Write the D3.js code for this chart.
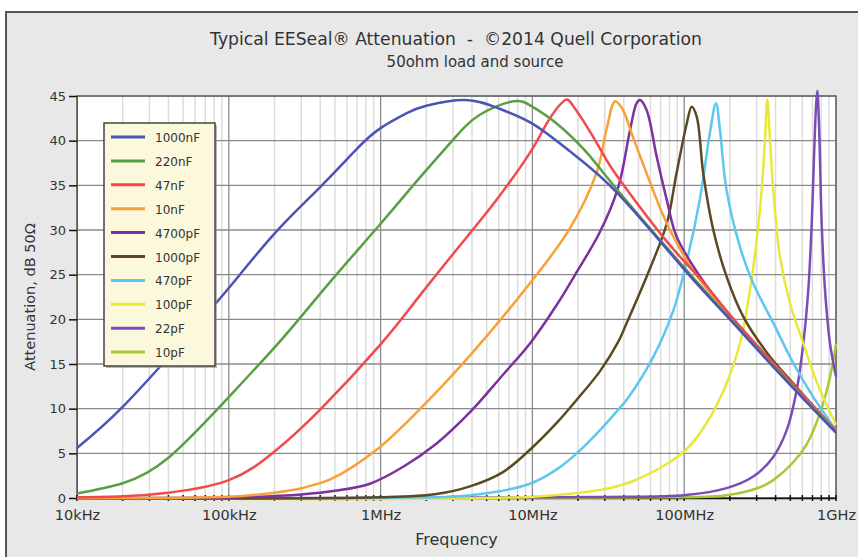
<!DOCTYPE html>
<html lang="en">
<head>
<meta charset="utf-8">
<title>EESeal attenuation</title>
<script src="https://cdnjs.cloudflare.com/ajax/libs/d3/7.8.5/d3.min.js"></script>
<style>
  body {margin: 0; background: white;}
  svg {display: block;}
  text {font-family: "DejaVu Sans", Verdana, sans-serif; fill: #333;}
</style>
</head>
<body>
<svg width="858" height="557"></svg>
<script>
// chart values
var titleText = "Typical EESeal\u00AE Attenuation  -  \u00A92014 Quell Corporation";
var subtitleText = "50ohm load and source";
var yTicks = [0, 5, 10, 15, 20, 25, 30, 35, 40, 45];
var xTicks = [1e4, 1e5, 1e6, 1e7, 1e8, 1e9];
var xTickLabels = ["10kHz", "100kHz", "1MHz", "10MHz", "100MHz", "1GHz"];
var labels = ["1000nF", "220nF", "47nF", "10nF", "4700pF", "1000pF", "470pF", "100pF", "22pF", "10pF"];
var colors = ["#4a55b6", "#5a9f44", "#f24a4c", "#f7a136", "#7d319e", "#5c4923", "#5ec7ef", "#e8e83a", "#7a4db6", "#a7c934"];

// frequency in Hz, attenuation in dB
var f1000nF = [1e4, 2e4, 5e4, 1e5, 2e5, 4e5, 7e5, 1e6, 1.5e6, 2e6, 3.6e6, 6e6, 1e7, 1.8e7, 3.7e7, 1e8, 2e8, 4e8, 1e9];
var db1000nF = [5.6, 10.2, 17.6, 23.5, 29.6, 34.8, 39.1, 41.4, 43.1, 43.9, 44.55, 43.6, 41.9, 38.7, 34.0, 25.6, 20.0, 14.4, 7.3];

var f220nF = [1e4, 2e4, 4e4, 1e5, 2.27e5, 4.55e5, 1e6, 1.8e6, 3e6, 4.5e6, 7.5e6, 1e7, 1.45e7, 2.3e7, 3.7e7, 1e8, 2e8, 4e8, 1e9];
var db220nF = [0.5, 1.65, 4.5, 11.3, 17.9, 24.0, 30.7, 35.8, 40.1, 42.9, 44.4, 43.8, 41.9, 38.6, 34.3, 25.8, 20.1, 14.5, 7.35];

var f47nF = [1e4, 2e4, 4e4, 1e5, 2e5, 4e5, 1e6, 1.8e6, 3.9e6, 6e6, 9.6e6, 1.25e7, 1.6e7, 1.8e7, 2.15e7, 2.9e7, 3.7e7, 7.7e7, 1.27e8, 2e8, 4e8, 1e9];
var db47nF = [0.08, 0.2, 0.6, 2.0, 5.2, 9.9, 17.2, 22.6, 29.7, 33.7, 38.6, 42.0, 44.4, 44.2, 42.3, 38.6, 35.8, 28.7, 24.6, 20.5, 14.8, 7.5];

var f10nF = [1e4, 1e5, 2e5, 3e5, 4.7e5, 9.4e5, 1.8e6, 3.9e6, 9.6e6, 1.77e7, 2.66e7, 3.1e7, 3.5e7, 3.9e7, 4.6e7, 6e7, 7.7e7, 1.14e8, 2e8, 4e8, 1e9];
var db10nF = [0.0, 0.15, 0.6, 1.1, 2.1, 5.4, 9.9, 16.0, 24.0, 30.2, 36.5, 41.5, 44.4, 43.6, 40.4, 35.2, 30.7, 25.5, 20.4, 14.8, 7.5];

var f4700pF = [1e4, 1e5, 3e5, 5e5, 8.5e5, 1.41e6, 2.34e6, 3.88e6, 6.4e6, 9.64e6, 1.445e7, 1.96e7, 2.79e7, 3.68e7, 4.4e7, 4.86e7, 5.12e7, 5.66e7, 6.59e7, 7.67e7, 8.89e7, 1.27e8, 1.9e8, 4e8, 1e9];
var db4700pF = [0, 0.05, 0.4, 0.8, 1.6, 3.5, 6.1, 9.6, 13.8, 17.3, 21.6, 25.3, 29.8, 34.8, 41.2, 44.2, 44.55, 43.4, 38.2, 33.4, 29.3, 24.8, 20.9, 14.8, 7.5];

var f1000pF = [1e4, 1e6, 2.34e6, 3.88e6, 6.4e6, 9.64e6, 1.445e7, 1.96e7, 2.79e7, 3.68e7, 4.18e7, 5.66e7, 7.67e7, 8.89e7, 1.039e8, 1.12e8, 1.209e8, 1.336e8, 1.555e8, 1.9e8, 2.449e8, 3.496e8, 5.236e8, 1e9];
var db1000pF = [0, 0.08, 0.45, 1.3, 2.9, 5.4, 8.4, 11.0, 14.2, 17.5, 19.6, 24.8, 30.7, 36.3, 41.9, 43.8, 42.7, 36.3, 30.0, 24.8, 20.3, 16.3, 12.8, 7.5];

var f470pF = [1e4, 1e6, 3.88e6, 9.64e6, 1.445e7, 1.96e7, 2.79e7, 3.68e7, 4.18e7, 6.26e7, 8.48e7, 1.039e8, 1.27e8, 1.48e8, 1.62e8, 1.72e8, 1.9e8, 2.33e8, 2.85e8, 3.86e8, 5.23e8, 7.09e8, 1e9];
var db470pF = [0, 0.02, 0.3, 1.6, 3.2, 5.0, 7.6, 9.9, 11.0, 15.8, 21.0, 26.5, 33.5, 41.0, 44.2, 41.2, 34.5, 28.1, 24.0, 19.6, 15.1, 11.3, 7.6];

var f100pF = [1e4, 1e7, 2.79e7, 3.68e7, 4.62e7, 7.67e7, 1.028e8, 1.407e8, 1.9e8, 2.33e8, 2.714e8, 3.004e8, 3.239e8, 3.406e8, 3.527e8, 3.674e8, 3.86e8, 4.277e8, 4.977e8, 6.09e8, 7.46e8, 1e9];
var db100pF = [0, 0.15, 0.9, 1.35, 1.9, 3.8, 5.4, 8.4, 12.8, 17.3, 23.3, 28.9, 34.5, 40.1, 44.6, 40.1, 34.5, 27.0, 21.8, 17.3, 13.0, 8.2];

var f22pF = [1e4, 2.79e7, 1.028e8, 1.9e8, 2.85e8, 3.86e8, 4.734e8, 5.51e8, 6.09e8, 6.569e8, 6.917e8, 7.163e8, 7.383e8, 7.529e8, 7.727e8, 8.05e8, 8.464e8, 9.13e8, 1e9];
var db22pF = [0, 0.1, 0.33, 1.1, 2.4, 4.6, 7.6, 12.1, 17.3, 23.3, 30.7, 38.2, 43.8, 45.6, 41.9, 30.7, 23.3, 17.3, 13.6];

var f10pF = [1e4, 1e8, 1.9e8, 3.157e8, 3.86e8, 5.23e8, 6.41e8, 7.846e8, 9.13e8, 1e9];
var db10pF = [0, 0.08, 0.3, 1.2, 2.0, 4.0, 6.0, 9.5, 13.5, 17.3];

var freqs = [f1000nF, f220nF, f47nF, f10nF, f4700pF, f1000pF, f470pF, f100pF, f22pF, f10pF];
var dbs = [db1000nF, db220nF, db47nF, db10nF, db4700pF, db1000pF, db470pF, db100pF, db22pF, db10pF];

var series = labels.map(function(name, i) {
  return {
    name: name,
    color: colors[i],
    broad: i < 3,
    points: freqs[i].map(function(f, j) { return {f: f, db: dbs[i][j]}; })
  };
});

var svg = d3.select("svg");
var pLeft = 77, pRight = 836, pTop = 96, pBottom = 498;

var x = d3.scaleLog().domain([1e4, 1e9]).range([pLeft, pRight]);
var y = d3.scaleLinear().domain([0, 45]).range([pBottom, pTop]);

// grey panel with dark border
svg.append("rect")
  .attr("x", 6).attr("y", 12)
  .attr("width", 900).attr("height", 600)
  .attr("fill", "#e8e8e8")
  .attr("stroke", "#555").attr("stroke-width", 2);

svg.append("text")
  .attr("x", 456).attr("y", 45)
  .attr("text-anchor", "middle")
  .style("font-size", "17.2px")
  .style("white-space", "pre")
  .text(titleText);

svg.append("text")
  .attr("x", 475).attr("y", 67)
  .attr("text-anchor", "middle")
  .style("font-size", "15px")
  .text(subtitleText);

// plot area
svg.append("rect")
  .attr("x", pLeft).attr("y", pTop)
  .attr("width", pRight - pLeft).attr("height", pBottom - pTop)
  .attr("fill", "white");

// minor vertical grid
var minor = [];
for (var dec = 1e4; dec < 1e9; dec *= 10) {
  for (var m = 2; m <= 9; m++) minor.push(dec * m);
}
svg.append("g").selectAll("line")
  .data(minor)
  .enter().append("line")
  .attr("x1", function(d) { return x(d); })
  .attr("x2", function(d) { return x(d); })
  .attr("y1", pTop).attr("y2", pBottom)
  .attr("stroke", "#dcdcdc").attr("stroke-width", 1.5);

// major grid
svg.append("g").selectAll("line")
  .data(xTicks)
  .enter().append("line")
  .attr("x1", function(d) { return x(d); })
  .attr("x2", function(d) { return x(d); })
  .attr("y1", pTop).attr("y2", pBottom)
  .attr("stroke", "#8a8a8a").attr("stroke-width", 1.3);

svg.append("g").selectAll("line")
  .data(yTicks)
  .enter().append("line")
  .attr("x1", pLeft).attr("x2", pRight)
  .attr("y1", function(d) { return y(d); })
  .attr("y2", function(d) { return y(d); })
  .attr("stroke", "#8a8a8a").attr("stroke-width", 1.3);

// border
svg.append("rect")
  .attr("x", pLeft).attr("y", pTop)
  .attr("width", pRight - pLeft).attr("height", pBottom - pTop)
  .attr("fill", "none")
  .attr("stroke", "#6a6a6a").attr("stroke-width", 1.5);

// y axis
var yAxis = d3.axisLeft(y).tickValues(yTicks).tickSize(8).tickPadding(3);
var gy = svg.append("g").attr("transform", "translate(" + pLeft + ",0)").call(yAxis);
gy.select(".domain").attr("stroke", "#555");
gy.selectAll(".tick line").attr("stroke", "#111").attr("stroke-width", 1.5);
gy.selectAll(".tick text").style("font-size", "13px").attr("fill", "#333")
  .style("font-family", "DejaVu Sans, sans-serif");

// x axis
var xAxis = d3.axisBottom(x).tickValues(xTicks)
  .tickFormat(function(d, i) { return xTickLabels[i]; })
  .tickSize(0).tickPadding(12);
var gx = svg.append("g").attr("transform", "translate(0," + pBottom + ")").call(xAxis);
gx.select(".domain").attr("stroke", "#111").attr("stroke-width", 1.5);
gx.selectAll(".tick text").style("font-size", "14.5px").attr("fill", "#333")
  .style("font-family", "DejaVu Sans, sans-serif");

// small tick marks on the frequency axis
svg.append("g").selectAll("line")
  .data(minor.concat(xTicks))
  .enter().append("line")
  .attr("x1", function(d) { return x(d); })
  .attr("x2", function(d) { return x(d); })
  .attr("y1", pBottom - 3).attr("y2", pBottom + 3)
  .attr("stroke", "#111").attr("stroke-width", 1.5);

svg.append("text")
  .attr("x", (pLeft + pRight) / 2).attr("y", 545)
  .attr("text-anchor", "middle")
  .style("font-size", "16px")
  .text("Frequency");

svg.append("text")
  .attr("transform", "translate(35," + (pTop + pBottom) / 2 + ") rotate(-90)")
  .attr("text-anchor", "middle")
  .style("font-size", "14.5px")
  .text("Attenuation, dB 50\u03A9");

// curves: broad ones get a natural spline, the resonant ones catmull-rom
var smoothLine = d3.line()
  .x(function(d) { return x(d.f); })
  .y(function(d) { return y(d.db); })
  .curve(d3.curveNatural);
var peakLine = d3.line()
  .x(function(d) { return x(d.f); })
  .y(function(d) { return y(d.db); })
  .curve(d3.curveCatmullRom.alpha(0.5));

svg.append("g").selectAll("path")
  .data(series.slice().reverse())
  .enter().append("path")
  .attr("d", function(d) { return d.broad ? smoothLine(d.points) : peakLine(d.points); })
  .attr("fill", "none")
  .attr("stroke", function(d) { return d.color; })
  .attr("stroke-width", 2.5)
  .attr("stroke-linejoin", "round");

// legend
var lx = 104, ly = 123, lw = 111, lh = 243, rowH = 23.9;
svg.append("rect")
  .attr("x", lx + 2).attr("y", ly + 2)
  .attr("width", lw).attr("height", lh)
  .attr("fill", "#888").attr("opacity", 0.6);
svg.append("rect")
  .attr("x", lx).attr("y", ly)
  .attr("width", lw).attr("height", lh)
  .attr("fill", "#fbf8dc")
  .attr("stroke", "#444").attr("stroke-width", 1.5);

var items = svg.append("g").selectAll("g")
  .data(series)
  .enter().append("g")
  .attr("transform", function(d, i) { return "translate(" + lx + "," + (ly + 14 + i * rowH) + ")"; });
items.append("line")
  .attr("x1", 7).attr("x2", 41)
  .attr("stroke", function(d) { return d.color; })
  .attr("stroke-width", 3);
items.append("text")
  .attr("x", 51).attr("y", 5)
  .style("font-size", "12px")
  .text(function(d) { return d.name; });
</script>
</body>
</html>
